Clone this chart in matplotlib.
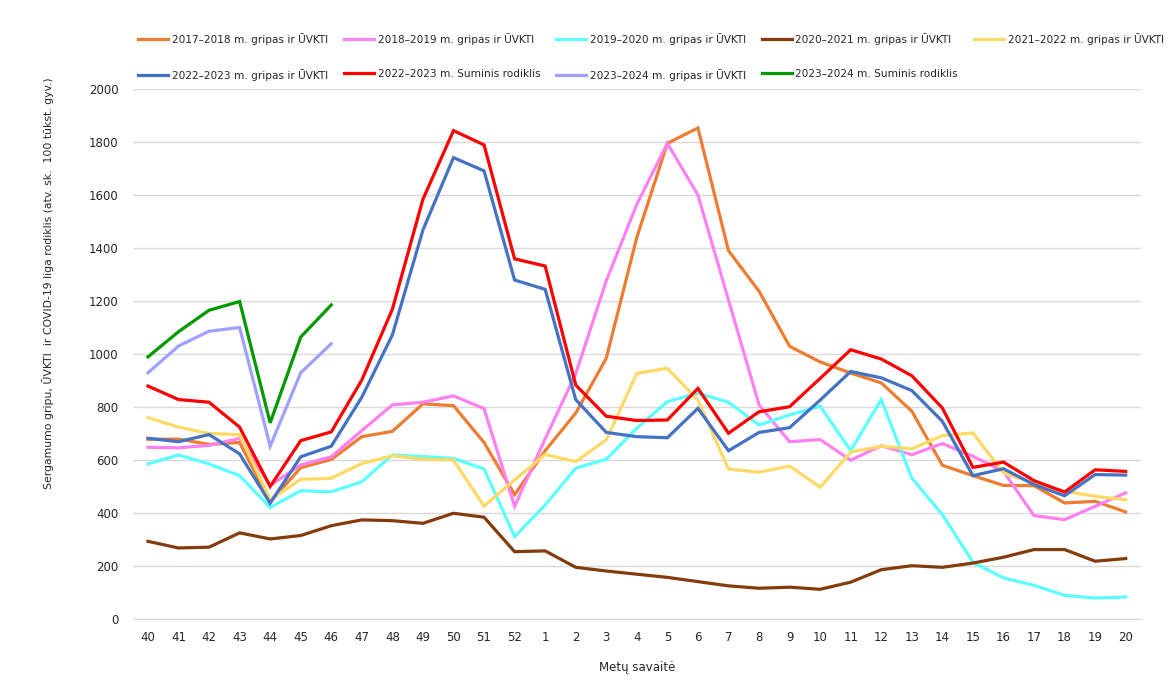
import matplotlib
matplotlib.use('Agg')
import matplotlib.pyplot as plt
import numpy as np

# Weeks of the season (week 40 to week 20)
weeks = ['40', '41', '42', '43', '44', '45', '46', '47', '48', '49', '50', '51', '52',
         '1', '2', '3', '4', '5', '6', '7', '8', '9', '10', '11', '12', '13', '14',
         '15', '16', '17', '18', '19', '20']

s2017 = [678, 679, 659, 666, 442, 571, 602, 688, 708, 812, 805, 666, 469,
         635, 777, 984, 1440, 1795, 1853, 1390, 1237, 1029, 970, 928, 891, 784,
         580, 541, 504, 503, 438, 444, 404]
s2018 = [648, 646, 655, 682, 504, 581, 612, 711, 808, 818, 842, 794, 425,
         680, 925, 1276, 1565, 1795, 1600, 1204, 808, 669, 677, 599, 654, 620,
         662, 614, 557, 390, 375, 425, 476]
s2019 = [585, 619, 585, 541, 421, 484, 480, 518, 619, 613, 606, 566, 311,
         430, 569, 603, 720, 820, 852, 818, 732, 770, 803, 635, 828, 532,
         394, 214, 155, 127, 89, 79, 83]
s2020 = [293, 268, 271, 325, 302, 315, 352, 374, 371, 361, 399, 384, 254,
         257, 195, 181, 169, 157, 141, 125, 116, 120, 112, 139, 186, 201,
         195, 211, 233, 262, 262, 218, 228]
s2021 = [760, 724, 700, 696, 450, 527, 531, 587, 616, 603, 600, 426, 525,
         621, 594, 676, 927, 946, 826, 566, 554, 577, 497, 630, 652, 642,
         692, 702, 551, 513, 482, 463, 450]
s2022 = [682, 669, 696, 623, 437, 612, 652, 837, 1072, 1468, 1741, 1691, 1279,
         1244, 828, 704, 688, 684, 795, 635, 704, 722, 826, 934, 910, 862,
         746, 541, 567, 507, 465, 545, 543]
s2022_total = [879, 828, 818, 724, 500, 673, 706, 902, 1169, 1584, 1843, 1789, 1359,
               1332, 883, 765, 749, 751, 870, 701, 782, 801, 908, 1016, 981, 918,
               796, 572, 592, 522, 479, 563, 557]
s2023 = [929, 1030, 1086, 1100, 652, 929, 1039]
s2023_total = [989, 1084, 1165, 1198, 740, 1064, 1185]

series = [
    ('2017\u20132018 m. gripas ir \u016aVKTI', s2017, '#ED7D31'),
    ('2018\u20132019 m. gripas ir \u016aVKTI', s2018, '#FF80F0'),
    ('2019\u20132020 m. gripas ir \u016aVKTI', s2019, '#5CFFFF'),
    ('2020\u20132021 m. gripas ir \u016aVKTI', s2020, '#843C0C'),
    ('2021\u20132022 m. gripas ir \u016aVKTI', s2021, '#FFD966'),
    ('2022\u20132023 m. gripas ir \u016aVKTI', s2022, '#4472C4'),
    ('2022\u20132023 m. Suminis rodiklis', s2022_total, '#FF0000'),
    ('2023\u20132024 m. gripas ir \u016aVKTI', s2023, '#A0A0FF'),
    ('2023\u20132024 m. Suminis rodiklis', s2023_total, '#009A00'),
]

plt.rcParams['font.family'] = ['DejaVu Sans']
txt_color = '#262626'

fig = plt.figure(figsize=(11.73, 6.98), dpi=100)
ax = fig.add_axes([0.1131, 0.1132, 0.8596, 0.7593])

x = np.arange(len(weeks))
handles = []
for label, vals, color in series:
    h, = ax.plot(x[:len(vals)], vals, color=color, lw=2.3, label=label,
                 solid_joinstyle='miter')
    handles.append(h)

ax.set_xlim(-0.5, len(weeks) - 0.5)
ax.set_ylim(0, 2000)
ax.set_yticks(range(0, 2001, 200))
ax.set_xticks(x)
ax.set_xticklabels(weeks)
ax.tick_params(axis='both', length=0, labelsize=8.5, colors=txt_color)
ax.tick_params(axis='y', pad=10)
ax.tick_params(axis='x', pad=9)
ax.grid(axis='y', color='#d9d9d9', lw=1)
ax.set_axisbelow(True)
for side in ['top', 'right', 'left']:
    ax.spines[side].set_visible(False)
ax.spines['bottom'].set_color('#d9d9d9')

ax.set_xlabel('Met\u0173 savait\u0117', fontsize=8.5, color=txt_color, labelpad=12)
fig.text(48 / 1173, 1 - 283 / 698,
         'Sergamumo gripu, \u016aVKTI  ir COVID-19 liga rodiklis (atv. sk.  100 t\u016bkst. gyv.)',
         rotation=90, ha='center', va='center', fontsize=7.8, color=txt_color)

# legend: row-major order, 5 columns
order = [0, 5, 1, 6, 2, 7, 3, 8, 4]
fig.legend([handles[i] for i in order], [series[i][0] for i in order],
           loc='upper left', bbox_to_anchor=(138 / 1173, 1 - 33 / 698),
           ncol=5, frameon=False, fontsize=7.6, handlelength=2.85,
           handletextpad=0.35, columnspacing=1.5, labelspacing=2.3,
           borderpad=0, borderaxespad=0, labelcolor=txt_color)

plt.savefig('out.png', dpi=100)
